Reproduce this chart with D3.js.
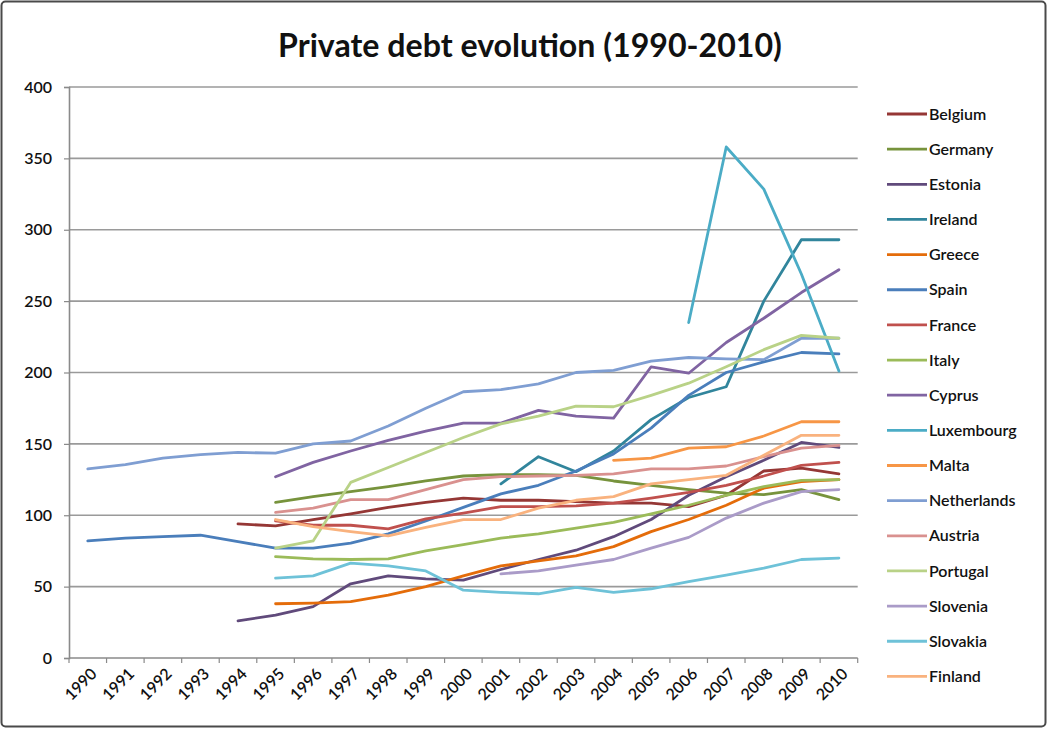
<!DOCTYPE html>
<html>
<head>
<meta charset="utf-8">
<script src="https://cdn.jsdelivr.net/npm/d3@7"></script>
<style>
  html, body { margin: 0; padding: 0; background: #fff; }
  svg { display: block; }
  text { font-family: Lato, "Open Sans", sans-serif; fill: #111; }
</style>
</head>
<body>
<svg id="chart" width="1048" height="729"></svg>
<script>
// Private debt (% of GDP) by euro-area country, 1990–2010
const years = d3.range(1990, 2011).map(String);
const yTicks = [0, 50, 100, 150, 200, 250, 300, 350, 400];

const countries = ["Belgium", "Germany", "Estonia", "Ireland", "Greece", "Spain", "France", "Italy",
  "Cyprus", "Luxembourg", "Malta", "Netherlands", "Austria", "Portugal", "Slovenia", "Slovakia", "Finland"];

const colors = ["#953735", "#77933C", "#604A7B", "#31859C", "#E46C0A", "#4A7EBB", "#C0504D", "#9BBB59",
  "#8064A2", "#4BACC6", "#F79646", "#7F9ED2", "#D9918F", "#B9D287", "#AA9BC8", "#6EC2D8", "#F9B27E"];

const _ = null;
const belgium     = [_, _, _, _, 94, 92.5, 97, 101, 105.5, 109, 112, 110.5, 110.5, 109.5, 108.5, 108.5, 106, 114, 131, 133, 129];
const germany     = [_, _, _, _, _, 109, 113, 116.5, 120, 124, 127.5, 128.5, 128.5, 128, 124, 121, 118, 115.5, 114.5, 118, 111];
const estonia     = [_, _, _, _, 26, 30, 36, 52, 57.5, 55.5, 54.5, 62, 69, 75.5, 85, 97, 114, 127, 138.5, 151, 147.5];
const ireland     = [_, _, _, _, _, _, _, _, _, _, _, 122, 141, 130.5, 145, 167, 182.5, 190, 250, 293, 293];
const greece      = [_, _, _, _, _, 38, 38.5, 39.5, 44, 50, 57.5, 64.5, 68, 71.5, 78, 88.5, 97, 107, 119, 123.5, 125];
const spain       = [82, 84, 85, 86, 81.5, 77, 77, 80.5, 87, 96, 105.5, 115, 121, 131, 143, 161, 184, 200, 207.5, 214, 213];
const france      = [_, _, _, _, _, 96, 93, 93, 90.5, 97.5, 101.5, 106, 106, 106.5, 108.5, 112, 116, 121, 127.5, 135, 137];
const italy       = [_, _, _, _, _, 71, 69.5, 69, 69.5, 75, 79.5, 84, 87, 91, 95, 101, 107, 114, 120, 124.5, 125];
const cyprus      = [_, _, _, _, _, 127, 137, 145, 152.5, 159, 164.5, 164.5, 173.5, 169.5, 168, 204, 199.5, 221, 238, 256, 272];
const luxembourg  = [_, _, _, _, _, _, _, _, _, _, _, _, _, _, _, _, 235, 358, 328.5, 269, 201];
const malta       = [_, _, _, _, _, _, _, _, _, _, _, _, _, _, 138.5, 140, 147, 148, 155.5, 165.5, 165.5];
const netherlands = [132.5, 135.5, 140, 142.5, 144, 143.5, 150, 152, 162.5, 175, 186.5, 188, 192, 200, 201.5, 208, 210.5, 209.5, 209, 224, 224];
const austria     = [_, _, _, _, _, 102, 105, 111, 111, 118, 125, 127, 127.5, 128, 129, 132.5, 132.5, 134.5, 141, 147, 149];
const portugal    = [_, _, _, _, _, 77, 82, 123, 133.5, 144, 154.5, 164, 169.5, 176.5, 176, 184, 192.5, 204, 216, 226, 224];
const slovenia    = [_, _, _, _, _, _, _, _, _, _, _, 59, 61, 65, 69, 77, 84.5, 98, 108.5, 116.5, 118];
const slovakia    = [_, _, _, _, _, 56, 57.5, 66.5, 64.5, 61, 47.5, 46, 45, 49.5, 46, 48.5, 53.5, 58, 63, 69, 70];
const finland     = [_, _, _, _, _, 97, 92, 88.5, 85.5, 91.5, 97, 97, 105, 110.5, 113, 122, 125, 128, 142, 156, 156];

const seriesValues = [belgium, germany, estonia, ireland, greece, spain, france, italy, cyprus,
  luxembourg, malta, netherlands, austria, portugal, slovenia, slovakia, finland];

const series = countries.map((name, i) => ({
  name, color: colors[i],
  points: years.map((yr, j) => ({ year: yr, value: seriesValues[i][j] }))
}));

const svg = d3.select("#chart");

// outer frame
svg.append("rect")
  .attr("x", 1.5).attr("y", 1.5).attr("width", 1044).attr("height", 725)
  .attr("rx", 4)
  .attr("fill", "#fff").attr("stroke", "#4a4a4a").attr("stroke-width", 2);

const plot = { left: 69, right: 857.7, top: 87, bottom: 658 };

const x = d3.scaleBand().domain(years).range([plot.left, plot.right]).padding(0);
const y = d3.scaleLinear().domain([0, 400]).range([plot.bottom, plot.top]);
const cx = d => x(d) + x.bandwidth() / 2;

// horizontal gridlines
svg.append("g")
  .selectAll("line")
  .data(yTicks.filter(t => t > 0))
  .join("line")
  .attr("x1", plot.left).attr("x2", plot.right)
  .attr("y1", d => y(d)).attr("y2", d => y(d))
  .attr("stroke", "#9a9a9a").attr("stroke-width", 1.6);

// y axis
const yAxis = svg.append("g")
  .attr("transform", `translate(${plot.left},0)`)
  .call(d3.axisLeft(y).tickValues(yTicks).tickSize(5).tickPadding(12));
yAxis.select(".domain").attr("stroke", "#8a8a8a").attr("stroke-width", 1.6);
yAxis.selectAll(".tick line").attr("stroke", "#8a8a8a").attr("stroke-width", 1.2);
yAxis.selectAll(".tick text")
  .style("font-family", "Lato, sans-serif").style("font-size", "16px").style("font-weight", "600")
  .attr("fill", "#111");

// x axis with ticks on the category boundaries
const xAxis = svg.append("g")
  .attr("transform", `translate(0,${plot.bottom})`);
xAxis.append("line")
  .attr("x1", plot.left).attr("x2", plot.right)
  .attr("stroke", "#8a8a8a").attr("stroke-width", 1.6);
xAxis.selectAll("line.tk")
  .data(years.concat(["end"]))
  .join("line").attr("class", "tk")
  .attr("x1", (d, i) => plot.left + i * x.bandwidth())
  .attr("x2", (d, i) => plot.left + i * x.bandwidth())
  .attr("y1", 0).attr("y2", 5)
  .attr("stroke", "#8a8a8a").attr("stroke-width", 1.2);
xAxis.selectAll("text")
  .data(years)
  .join("text")
  .attr("transform", d => `translate(${cx(d) + 6},${13}) rotate(-45)`)
  .attr("text-anchor", "end")
  .attr("dy", "0.35em")
  .style("font-size", "16px").style("font-weight", "600")
  .text(d => d);

// series lines
const line = d3.line()
  .defined(d => d.value !== null)
  .x(d => cx(d.year))
  .y(d => y(d.value));

svg.append("g")
  .selectAll("path")
  .data(series)
  .join("path")
  .attr("d", d => line(d.points))
  .attr("fill", "none")
  .attr("stroke", d => d.color)
  .attr("stroke-width", 2.8)
  .attr("stroke-linejoin", "round")
  .attr("stroke-linecap", "round");

// legend
const legend = svg.append("g");
const rowH = 35.15;
const item = legend.selectAll("g")
  .data(series)
  .join("g")
  .attr("transform", (d, i) => `translate(887,${114 + i * rowH})`);
item.append("line")
  .attr("x1", 0).attr("x2", 40)
  .attr("stroke", d => d.color).attr("stroke-width", 2.8);
item.append("text")
  .attr("x", 42).attr("dy", "0.35em")
  .style("font-size", "16px").style("font-weight", "600")
  .text(d => d.name);

// title
const title = svg.append("text")
  .attr("x", 530).attr("y", 57)
  .attr("text-anchor", "middle")
  .style("font-size", "30px").style("font-weight", "700")
  .text("Private debt evolution (1990-2010)");
const tw = title.node().getComputedTextLength();
title.style("font-size", (30 * 504 / tw).toFixed(2) + "px");
</script>
</body>
</html>
